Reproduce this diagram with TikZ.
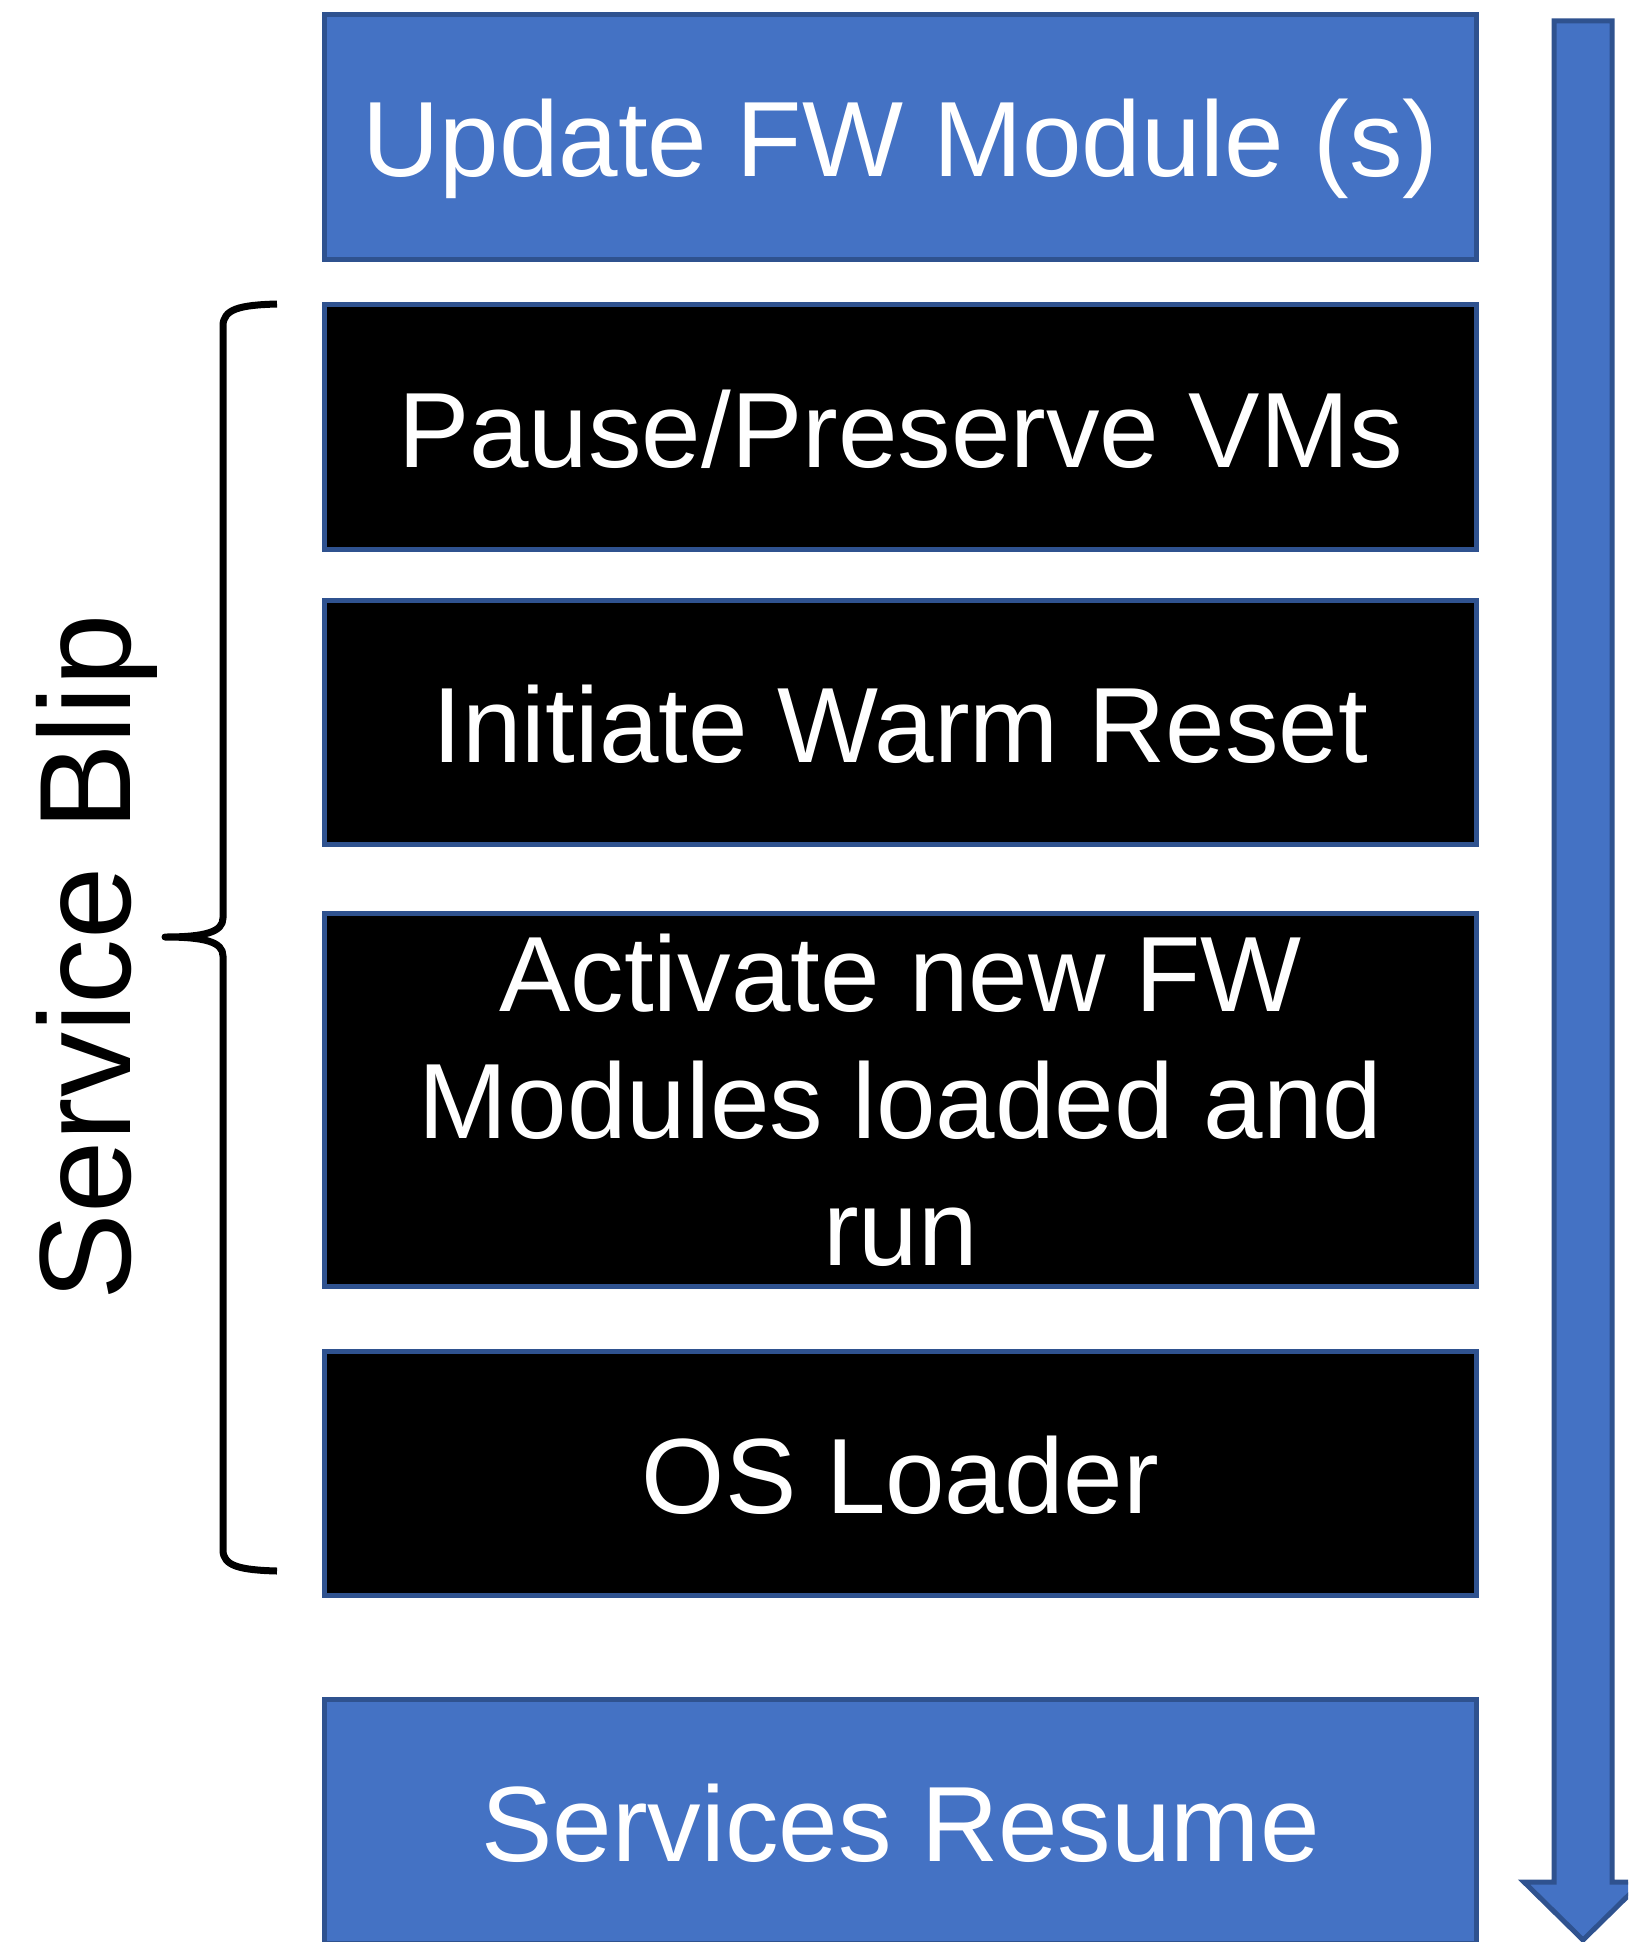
\documentclass[tikz,border=0pt]{standalone}
\usepackage{fontspec}
\usetikzlibrary{calc}
\setmainfont{Liberation Sans}
\definecolor{fillblue}{HTML}{4472C4}
\definecolor{edgeblue}{HTML}{2F528F}
\begin{document}
\begin{tikzpicture}[x=1pt,y=-1pt,
  stepbase/.style={draw=edgeblue, line width=5pt, inner sep=0pt,
    minimum width=1152pt, text=white, align=center,
    font=\fontsize{107}{127}\selectfont},
  oneline/.style={stepbase, text height=80pt, text depth=0pt},
  bluebox/.style={oneline, fill=fillblue},
  blackbox/.style={oneline, fill=black},
  blackmulti/.style={stepbase, fill=black},
  bracepath/.style={draw=black, line width=7pt, line join=round},
  flow/.style={draw=edgeblue, fill=fillblue, line width=5pt, line join=miter}]
\useasboundingbox (0,0) rectangle (1628,1942);
\clip (0,0) rectangle (1628,1942);

% process steps
\node[bluebox, minimum height=245pt] (update) at (900.5,137) {Update FW Module (s)};
\node[blackbox, minimum height=245pt] (pause) at (900.5,427) {Pause/Preserve VMs};
\node[blackbox, minimum height=244pt] (reset) at (900.5,722.5) {Initiate Warm Reset};
\node[blackmulti, minimum height=373pt] (activate) at (900.5,1100) {Activate new FW\\Modules loaded and\\run};
\node[blackbox, minimum height=244pt] (loader) at (900.5,1473.5) {OS Loader};
\node[bluebox, minimum height=244pt] (resume) at (900.5,1821.5) {Services Resume};

% time direction arrow
\coordinate (arrtop) at (1583,21);
\coordinate (arrtip) at (1583,1940);
\path[flow] ($(arrtop)+(-29,0)$) -- ($(arrtop)+(29,0)$) -- ($(arrtip)+(29,-58)$)
  -- ($(arrtip)+(59,-58)$) -- (arrtip) -- ($(arrtip)+(-59,-58)$)
  -- ($(arrtip)+(-29,-58)$) -- cycle;

% brace spanning the service blip
\coordinate (bracetop) at (277,304);
\coordinate (bracetip) at (165,937);
\coordinate (bracebot) at (277,1571);
\path[bracepath] (bracetop) .. controls (240,305) and (223,309) .. (223,326)
  -- (223,918) .. controls (223,932) and (205,937) .. (bracetip)
  .. controls (205,937) and (223,942) .. (223,956)
  -- (223,1550) .. controls (223,1566) and (240,1570) .. (bracebot);

\node[rotate=90, anchor=base, inner sep=0pt, font=\fontsize{130}{150}\selectfont] (blip) at (130,957) {Service Blip};
\end{tikzpicture}
\end{document}
